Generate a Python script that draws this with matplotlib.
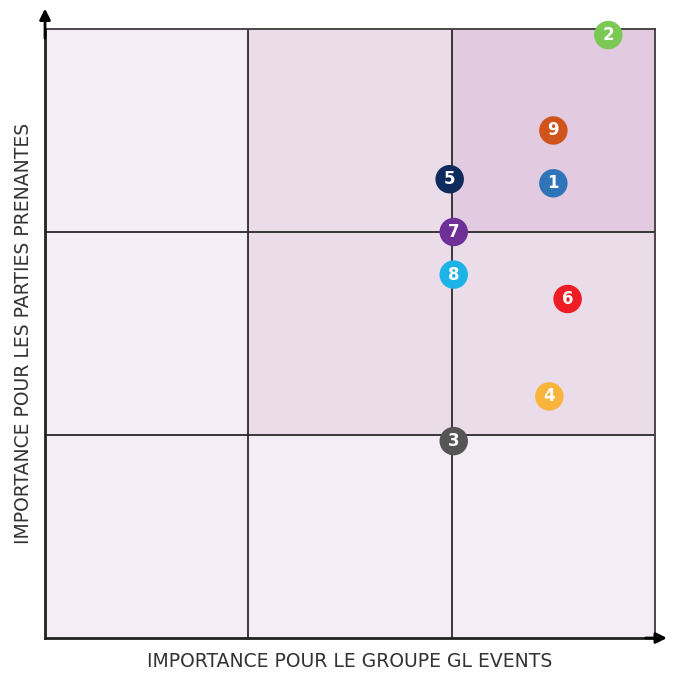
import numpy as np
import matplotlib.pyplot as plt

# enjeux de materialite
labels = ['1', '2', '3', '4', '5', '6', '7', '8', '9']
x_vals = [2.50, 2.77, 2.01, 2.48, 1.99, 2.57, 2.01, 2.01, 2.50]
y_vals = [2.24, 2.97, 0.97, 1.19, 2.26, 1.67, 2.00, 1.79, 2.50]
colors = ['#2f74b8', '#7cc855', '#555555', '#f9b53b', '#0f2a5c',
          '#ee1c25', '#6e3096', '#1cb4e6', '#d0541c']

# shade level of each 3x3 cell (row 0 = bottom)
cell_levels = [[0, 0, 0],
               [0, 1, 1],
               [0, 1, 2]]
shades = ['#f5edf5', '#ebdcea', '#e2cae1']

fig = plt.figure(figsize=(6.76, 6.74), dpi=100)
ax = fig.add_axes([0.0666, 0.0534, 0.9024, 0.9036])

for r in range(3):
    for c in range(3):
        ax.add_patch(plt.Rectangle((c, r), 1, 1, facecolor=shades[cell_levels[r][c]],
                                   edgecolor='none', zorder=0))

for v in [1, 2]:
    ax.axvline(v, color='#2a2a2a', lw=1.3, zorder=1)
    ax.axhline(v, color='#2a2a2a', lw=1.3, zorder=1)

ax.set_xlim(0, 3)
ax.set_ylim(0, 3)
ax.set_xticks([])
ax.set_yticks([])
for side in ['left', 'bottom']:
    ax.spines[side].set_linewidth(2)
    ax.spines[side].set_color('#222222')
for side in ['top', 'right']:
    ax.spines[side].set_linewidth(1.3)
    ax.spines[side].set_color('#3a3a3a')

# axis arrows
ax.annotate('', xy=(0, 1.038), xytext=(0, 0.98), xycoords='axes fraction',
            arrowprops=dict(arrowstyle='-|>', color='black', lw=2, mutation_scale=16),
            annotation_clip=False)
ax.annotate('', xy=(1.024, 0), xytext=(0.98, 0), xycoords='axes fraction',
            arrowprops=dict(arrowstyle='-|>', color='black', lw=2, mutation_scale=16),
            annotation_clip=False)

ax.scatter(x_vals, y_vals, s=420, c=colors, edgecolors='none', zorder=3, clip_on=False)
for lab, xv, yv in zip(labels, x_vals, y_vals):
    ax.text(xv, yv, lab, color='white', fontsize=12, fontweight='bold',
            ha='center', va='center', zorder=4)

ax.set_xlabel('IMPORTANCE POUR LE GROUPE GL EVENTS', fontsize=13.5, color='#333333', labelpad=10)
ax.set_ylabel('IMPORTANCE POUR LES PARTIES PRENANTES', fontsize=13.5, color='#333333', labelpad=9)

fig.savefig('out.png', dpi=100)
